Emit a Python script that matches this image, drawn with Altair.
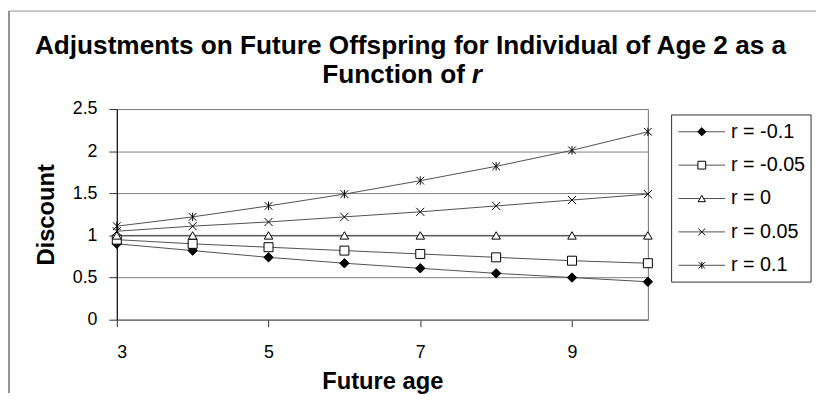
import altair as alt
import pandas as pd

ages = [3, 4, 5, 6, 7, 8, 9, 10]
series_names = ["r = -0.1", "r = -0.05", "r = 0", "r = 0.05", "r = 0.1"]
vals_m010 = [0.90, 0.82, 0.74, 0.67, 0.61, 0.55, 0.50, 0.45]
vals_m005 = [0.95, 0.90, 0.86, 0.82, 0.78, 0.74, 0.70, 0.67]
vals_000 = [1.00, 1.00, 1.00, 1.00, 1.00, 1.00, 1.00, 1.00]
vals_p005 = [1.05, 1.11, 1.16, 1.22, 1.28, 1.35, 1.42, 1.49]
vals_p010 = [1.11, 1.22, 1.35, 1.49, 1.65, 1.82, 2.01, 2.23]
x_ticks = [3, 5, 7, 9]
y_ticks = [0, 0.5, 1, 1.5, 2, 2.5]

title_line1 = "Adjustments on Future Offspring for Individual of Age 2 as a"
title_line2 = "Function of"
title_italic = "r"

rows = []
for name, vals in zip(series_names, [vals_m010, vals_m005, vals_000, vals_p005, vals_p010]):
    for a, v in zip(ages, vals):
        rows.append({"series": name, "age": a, "discount": v})
df = pd.DataFrame(rows)
leg_df = pd.DataFrame({"series": series_names, "idx": list(range(len(series_names)))})
one = pd.DataFrame({"k": [0]})

FONT = "Liberation Sans"
X_PATH = "M-1,-1L1,1M-1,1L1,-1"
AST_PATH = "M-1,-1L1,1M-1,1L1,-1M0,-1.1L0,1.1"
shape_scale = alt.Scale(domain=series_names,
                        range=["diamond", "square", "triangle-up", X_PATH, AST_PATH])
fill_scale = alt.Scale(domain=series_names,
                       range=["black", "white", "white", "transparent", "transparent"])
size_scale = alt.Scale(domain=series_names, range=[90, 60, 85, 130, 130])
leg_size_scale = alt.Scale(domain=series_names, range=[70, 40, 60, 90, 90])

x_enc = alt.X("age:Q", scale=alt.Scale(domain=[3, 10], nice=False, zero=False),
              axis=alt.Axis(values=x_ticks, format="d", title="Future age", grid=False,
                            domainColor="#707070", tickColor="#303030", tickSize=7,
                            labelPadding=17, titlePadding=9, labelFont=FONT,
                            labelFontSize=18, labelColor="black", titleFont=FONT,
                            titleFontSize=24, titleFontWeight="bold", titleColor="black"))
y_enc = alt.Y("discount:Q", scale=alt.Scale(domain=[0, 2.5], nice=False),
              axis=alt.Axis(values=y_ticks, format="~g", title="Discount", grid=True,
                            gridColor="#808080", domainColor="black", tickColor="#303030",
                            tickSize=8, labelPadding=12, titlePadding=14, labelFont=FONT,
                            labelFontSize=18, labelColor="black", titleFont=FONT,
                            titleFontSize=24, titleFontWeight="bold", titleColor="black"))

lines = alt.Chart(df).mark_line(color="#505050", strokeWidth=1).encode(
    x=x_enc, y=y_enc, detail="series:N", order="age:Q")
points = alt.Chart(df).mark_point(filled=True, stroke="black", strokeWidth=1,
                                  opacity=1).encode(
    x="age:Q", y="discount:Q",
    shape=alt.Shape("series:N", scale=shape_scale, legend=None),
    fill=alt.Fill("series:N", scale=fill_scale, legend=None),
    size=alt.Size("series:N", scale=size_scale, legend=None))

t1 = alt.Chart(one).mark_text(text=title_line1, font=FONT, fontSize=26.5, fontWeight="bold",
                              align="center", baseline="alphabetic", color="black").encode(
    x=alt.value(297), y=alt.value(-56))
t2 = alt.Chart(one).mark_text(text=title_line2, font=FONT, fontSize=26.5, fontWeight="bold",
                              align="right", baseline="alphabetic", color="black").encode(
    x=alt.value(352), y=alt.value(-26))
t3 = alt.Chart(one).mark_text(text=title_italic, font=FONT, fontSize=26.5, fontWeight="bold",
                              fontStyle="italic", align="left", baseline="alphabetic",
                              color="black").encode(
    x=alt.value(359), y=alt.value(-26))
border_top = alt.Chart(one).mark_rule(color="#a8a8a8", strokeWidth=1.5).encode(
    x=alt.value(-109), x2=alt.value(707), y=alt.value(-99))
border_left = alt.Chart(one).mark_rule(color="#707070", strokeWidth=1.5).encode(
    x=alt.value(-109), y=alt.value(-99), y2=alt.value(287))

main = alt.layer(lines, points, t1, t2, t3, border_top, border_left)

leg_y = alt.Y("idx:Q", scale=alt.Scale(domain=[-0.681, 5.63], reverse=True, nice=False,
                                       zero=False), axis=None)
leg_box = alt.Chart(one).mark_rect(fill="white", stroke="#303030", strokeWidth=1).encode(
    x=alt.value(561), x2=alt.value(702), y=alt.value(6), y2=alt.value(175))
leg_rule = alt.Chart(leg_df).mark_rule(color="#505050", strokeWidth=1).encode(
    x=alt.value(568), x2=alt.value(615), y=leg_y)
leg_pt = alt.Chart(leg_df).mark_point(filled=True, stroke="black", strokeWidth=1,
                                      opacity=1).encode(
    x=alt.value(591.5), y=leg_y,
    shape=alt.Shape("series:N", scale=shape_scale, legend=None),
    fill=alt.Fill("series:N", scale=fill_scale, legend=None),
    size=alt.Size("series:N", scale=leg_size_scale, legend=None))
leg_txt = alt.Chart(leg_df).mark_text(font=FONT, fontSize=20, align="left",
                                      baseline="middle", color="black").encode(
    x=alt.value(621), y=leg_y, text="series:N")
legend = alt.layer(leg_box, leg_rule, leg_pt, leg_txt)

chart = alt.layer(main, legend).resolve_scale(y="independent", size="independent").properties(
    width=537, height=213, padding=0, background="white"
).configure_view(stroke="#707070")

chart.save("out.html", embed_options={"renderer": "svg", "actions": False})
